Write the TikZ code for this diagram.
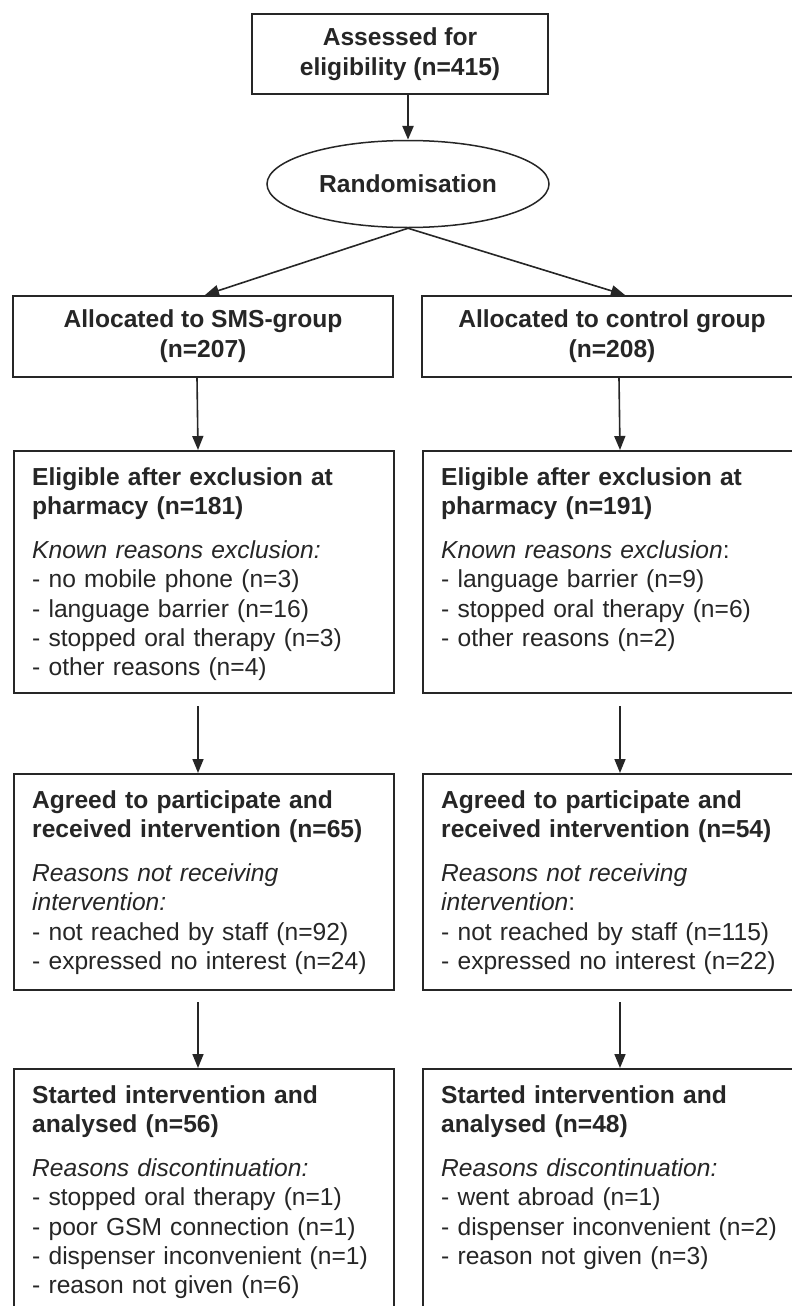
\documentclass[tikz,border=0pt]{standalone}
\usepackage{fontspec}
\setmainfont{Liberation Sans}
\usetikzlibrary{arrows.meta,shapes.geometric}
\definecolor{ink}{HTML}{262626}
\tikzset{
  flowbox/.style={draw=ink, line width=2pt, rectangle, inner sep=0pt},
  centerbox/.style={flowbox, align=center, text=ink, font=\fontsize{24.6}{30}\selectfont\bfseries},
  boxtext/.style={anchor=north west, inner sep=0pt, text width=360pt, align=left, text=ink, font=\fontsize{24.6}{29.2}\selectfont},
  flowarrow/.style={draw=ink, line width=1.6pt, -{Triangle[length=14pt,width=11pt]}},
}
\begin{document}
\begin{tikzpicture}[x=1pt,y=-1pt]
\useasboundingbox (0,0) rectangle (792,1306);
\fill[white] (0,0) rectangle (792,1306);
\clip (0,0) rectangle (792,1306);

% top
\node[centerbox, minimum width=296pt, minimum height=80pt] (assess) at (400,54) {Assessed for\\eligibility (n=415)};
\node[draw=ink, line width=1.5pt, ellipse, minimum width=282pt, minimum height=87pt, text=ink, font=\fontsize{24.6}{30}\selectfont\bfseries] (rand) at (408,184) {Randomisation};

% allocation
\node[centerbox, minimum width=380pt, minimum height=81pt] (sms) at (203,336.5) {Allocated to SMS-group\\(n=207)};
\node[centerbox, minimum width=380pt, minimum height=81pt] (ctl) at (612,336.5) {Allocated to control group\\(n=208)};

% eligible
\node[flowbox, minimum width=380pt, minimum height=242pt, anchor=north west] (elL) at (13,450) {};
\node[flowbox, minimum width=380pt, minimum height=242pt, anchor=north west] (elR) at (422,450) {};
\node[boxtext] (elLt) at (32,464.6) {\strut\textbf{Eligible after exclusion at}\\
\textbf{pharmacy (n=181)}\\[15pt]
\textit{Known reasons exclusion:}\\
- no mobile phone (n=3)\\
- language barrier (n=16)\\
- stopped oral therapy (n=3)\\
- other reasons (n=4)};
\node[boxtext] (elRt) at (441,464.6) {\strut\textbf{Eligible after exclusion at}\\
\textbf{pharmacy (n=191)}\\[15pt]
\textit{Known reasons exclusion}:\\
- language barrier (n=9)\\
- stopped oral therapy (n=6)\\
- other reasons (n=2)};

% agreed
\node[flowbox, minimum width=380pt, minimum height=216pt, anchor=north west] (agL) at (13,773) {};
\node[flowbox, minimum width=380pt, minimum height=216pt, anchor=north west] (agR) at (422,773) {};
\node[boxtext] (agLt) at (32,787.6) {\strut\textbf{Agreed to participate and}\\
\textbf{received intervention (n=65)}\\[15pt]
\textit{Reasons not receiving}\\
\textit{intervention:}\\
- not reached by staff (n=92)\\
- expressed no interest (n=24)};
\node[boxtext] (agRt) at (441,787.6) {\strut\textbf{Agreed to participate and}\\
\textbf{received intervention (n=54)}\\[15pt]
\textit{Reasons not receiving}\\
\textit{intervention}:\\
- not reached by staff (n=115)\\
- expressed no interest (n=22)};

% started
\node[flowbox, minimum width=380pt, minimum height=260pt, anchor=north west] (stL) at (13,1068) {};
\node[flowbox, minimum width=380pt, minimum height=260pt, anchor=north west] (stR) at (422,1068) {};
\node[boxtext] (stLt) at (32,1082.6) {\strut\textbf{Started intervention and}\\
\textbf{analysed (n=56)}\\[15pt]
\textit{Reasons discontinuation:}\\
- stopped oral therapy (n=1)\\
- poor GSM connection (n=1)\\
- dispenser inconvenient (n=1)\\
- reason not given (n=6)};
\node[boxtext] (stRt) at (441,1082.6) {\strut\textbf{Started intervention and}\\
\textbf{analysed (n=48)}\\[15pt]
\textit{Reasons discontinuation:}\\
- went abroad (n=1)\\
- dispenser inconvenient (n=2)\\
- reason not given (n=3)};

% connectors
\draw[flowarrow, line width=2.6pt] (rand.north |- assess.south) -- (rand.north);
\draw[flowarrow] (rand.south) -- ([xshift=2pt]sms.north);
\draw[flowarrow] (rand.south) -- ([xshift=13pt]ctl.north);
\draw[flowarrow] ([xshift=-6pt]sms.south) -- ([xshift=-6pt]elL.north);
\draw[flowarrow] ([xshift=7pt]ctl.south) -- ([xshift=7pt]elR.north);
\draw[flowarrow, shorten <=12pt] ([xshift=-6pt]elL.south) -- ([xshift=-6pt]agL.north);
\draw[flowarrow, shorten <=12pt] ([xshift=7pt]elR.south) -- ([xshift=7pt]agR.north);
\draw[flowarrow, shorten <=11pt] ([xshift=-6pt]agL.south) -- ([xshift=-6pt]stL.north);
\draw[flowarrow, shorten <=11pt] ([xshift=7pt]agR.south) -- ([xshift=7pt]stR.north);
\end{tikzpicture}
\end{document}
